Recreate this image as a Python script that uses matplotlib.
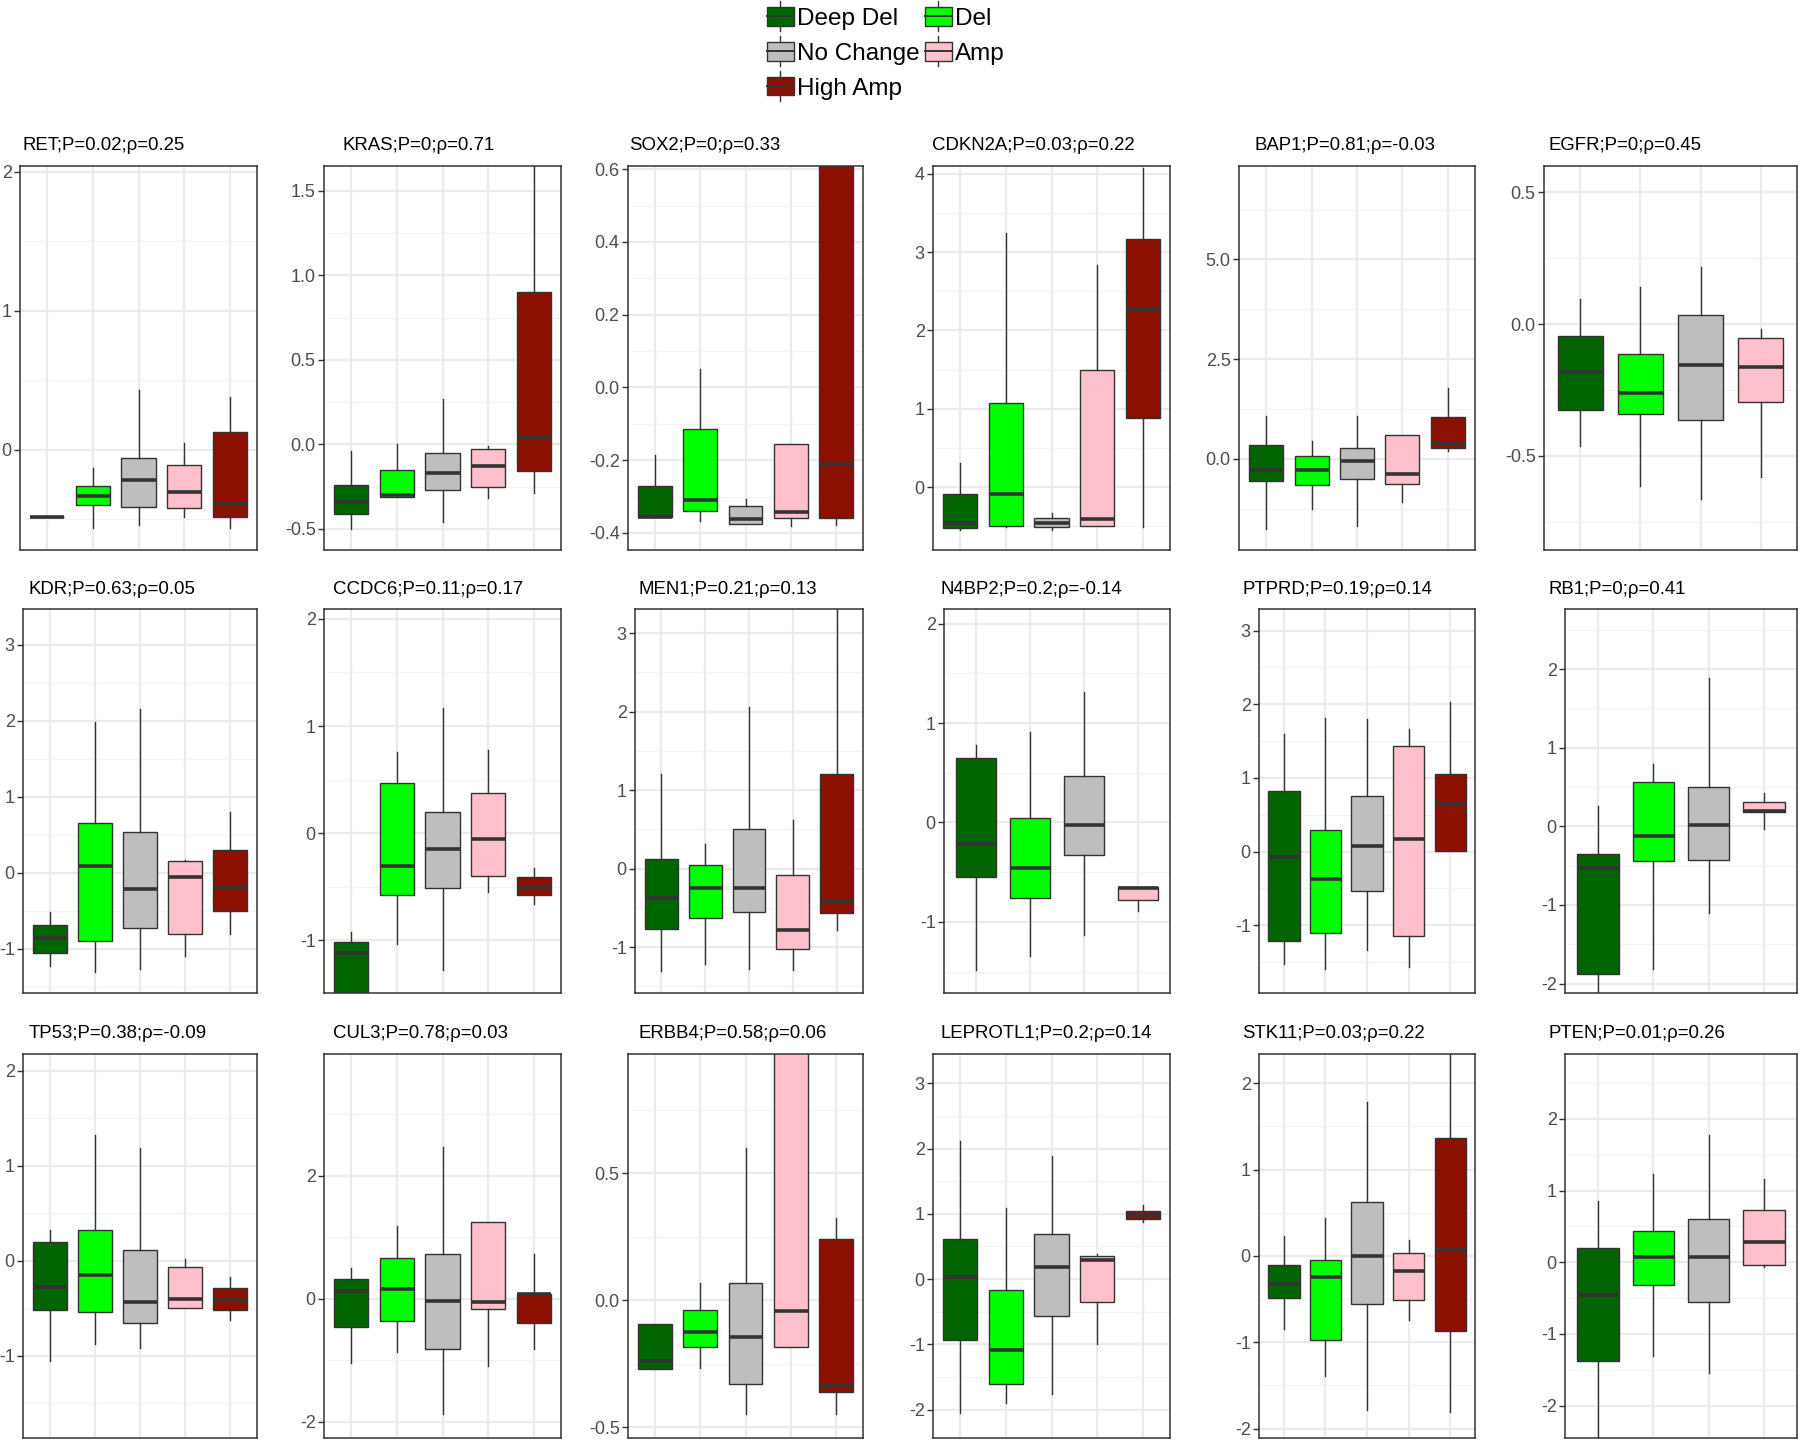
import matplotlib
matplotlib.use('Agg')
import matplotlib.pyplot as plt
from matplotlib.patches import Rectangle, Patch
from matplotlib.lines import Line2D
from matplotlib.legend_handler import HandlerBase

plt.rcParams['font.family'] = ['Liberation Sans', 'DejaVu Sans']

groups = ['Deep Del', 'Del', 'No Change', 'Amp', 'High Amp']
colors = ['#006400', '#00FF00', '#BEBEBE', '#FFC0CB', '#8B1000']

genes = ['RET', 'KRAS', 'SOX2', 'CDKN2A', 'BAP1', 'EGFR',
         'KDR', 'CCDC6', 'MEN1', 'N4BP2', 'PTPRD', 'RB1',
         'TP53', 'CUL3', 'ERBB4', 'LEPROTL1', 'STK11', 'PTEN']
pvals = [0.02, 0, 0, 0.03, 0.81, 0,
         0.63, 0.11, 0.21, 0.2, 0.19, 0,
         0.38, 0.78, 0.58, 0.2, 0.03, 0.01]
rhos = [0.25, 0.71, 0.33, 0.22, -0.03, 0.45,
        0.05, 0.17, 0.13, -0.14, 0.14, 0.41,
        -0.09, 0.03, 0.06, 0.14, 0.22, 0.26]

# boxplot stats per group: (whisker low, q1, median, q3, whisker high)
ret = [(-0.48, -0.48, -0.48, -0.48, -0.48), (-0.56, -0.40, -0.33, -0.26, -0.13),
       (-0.54, -0.41, -0.22, -0.06, 0.43), (-0.48, -0.42, -0.30, -0.11, 0.05),
       (-0.56, -0.48, -0.39, 0.13, 0.38)]
kras = [(-0.50, -0.41, -0.34, -0.24, -0.04), (-0.31, -0.31, -0.30, -0.15, 0.0),
        (-0.46, -0.27, -0.17, -0.05, 0.27), (-0.32, -0.25, -0.13, -0.03, -0.01),
        (-0.29, -0.16, 0.04, 0.90, 1.9)]
sox2 = [(-0.357, -0.357, -0.357, -0.27, -0.185), (-0.366, -0.339, -0.309, -0.115, 0.05),
        (-0.375, -0.375, -0.362, -0.327, -0.306), (-0.381, -0.358, -0.343, -0.155, -0.155),
        (-0.378, -0.36, -0.211, 0.9, 1.2)]
cdkn2a = [(-0.544, -0.514, -0.459, -0.089, 0.306), (-0.51, -0.489, -0.089, 1.072, 3.24),
          (-0.544, -0.502, -0.459, -0.387, -0.323), (-0.489, -0.489, -0.408, 1.493, 2.84),
          (-0.502, 0.884, 2.274, 3.17, 4.07)]
bap1 = [(-1.76, -0.54, -0.28, 0.35, 1.08), (-1.25, -0.65, -0.28, 0.08, 0.46),
        (-1.68, -0.51, -0.05, 0.27, 1.08), (-1.09, -0.63, -0.38, 0.60, 0.60),
        (0.21, 0.28, 0.38, 1.06, 1.77)]
egfr = [(-0.464, -0.325, -0.182, -0.044, 0.096), (-0.613, -0.34, -0.262, -0.113, 0.139),
        (-0.662, -0.363, -0.154, 0.035, 0.215), (-0.58, -0.296, -0.164, -0.051, -0.019)]
kdr = [(-1.23, -1.05, -0.86, -0.68, -0.51), (-1.30, -0.90, 0.09, 0.65, 1.98),
       (-1.27, -0.73, -0.21, 0.54, 2.15), (-1.09, -0.80, -0.06, 0.16, 0.17),
       (-0.80, -0.50, -0.19, 0.30, 0.80)]
ccdc6 = [(-2.0, -1.7, -1.12, -1.02, -0.92), (-1.04, -0.58, -0.31, 0.47, 0.76),
         (-1.28, -0.51, -0.15, 0.20, 1.17), (-0.55, -0.40, -0.06, 0.37, 0.78),
         (-0.66, -0.58, -0.50, -0.41, -0.33)]
men1 = [(-1.31, -0.77, -0.38, 0.12, 1.20), (-1.21, -0.63, -0.25, 0.05, 0.31),
        (-1.28, -0.55, -0.25, 0.51, 2.06), (-1.29, -1.03, -0.78, -0.08, 0.62),
        (-0.78, -0.57, -0.41, 1.21, 3.6)]
n4bp2 = [(-1.48, -0.55, -0.22, 0.65, 0.78), (-1.34, -0.76, -0.46, 0.04, 0.91),
         (-1.13, -0.33, -0.03, 0.47, 1.31), (-0.89, -0.78, -0.66, -0.65, -0.65)]
ptprd = [(-1.53, -1.22, -0.08, 0.82, 1.60), (-1.60, -1.10, -0.37, 0.30, 1.81),
         (-1.33, -0.54, 0.07, 0.75, 1.80), (-1.57, -1.15, 0.17, 1.44, 1.67),
         (0.01, 0.01, 0.64, 1.05, 2.03)]
rb1 = [(-2.3, -1.88, -0.53, -0.35, 0.26), (-1.82, -0.44, -0.12, 0.56, 0.79),
       (-1.10, -0.43, 0.02, 0.50, 1.89), (-0.03, 0.18, 0.20, 0.31, 0.42)]
tp53 = [(-1.06, -0.52, -0.28, 0.20, 0.32), (-0.88, -0.54, -0.15, 0.32, 1.33),
        (-0.92, -0.66, -0.43, 0.11, 1.19), (-0.50, -0.50, -0.40, -0.06, 0.02),
        (-0.62, -0.52, -0.41, -0.29, -0.17)]
cul3 = [(-1.05, -0.46, 0.13, 0.32, 0.50), (-0.87, -0.36, 0.15, 0.66, 1.18),
        (-1.88, -0.82, -0.03, 0.72, 2.47), (-1.09, -0.17, -0.06, 1.25, 1.25),
        (-0.82, -0.39, 0.07, 0.08, 0.73)]
erbb4 = [(-0.273, -0.273, -0.24, -0.094, -0.094), (-0.266, -0.186, -0.127, -0.039, 0.068),
         (-0.45, -0.331, -0.147, 0.066, 0.60), (-0.186, -0.186, -0.042, 1.2, 1.5),
         (-0.45, -0.362, -0.338, 0.24, 0.322)]
leprotl1 = [(-2.05, -0.93, 0.04, 0.62, 2.12), (-1.90, -1.61, -1.08, -0.16, 1.09),
            (-1.76, -0.57, 0.19, 0.69, 1.88), (-0.99, -0.35, 0.29, 0.35, 0.39),
            (0.88, 0.92, 0.99, 1.05, 1.13)]
stk11 = [(-0.85, -0.49, -0.32, -0.10, 0.23), (-1.39, -0.98, -0.24, -0.05, 0.44),
         (-1.78, -0.56, 0.0, 0.63, 1.78), (-0.74, -0.51, -0.18, 0.03, 0.18),
         (-1.81, -0.87, 0.07, 1.37, 2.6)]
pten = [(-2.7, -1.38, -0.46, 0.20, 0.86), (-1.31, -0.32, 0.08, 0.43, 1.23),
        (-1.55, -0.55, 0.07, 0.60, 1.78), (-0.07, -0.04, 0.28, 0.73, 1.16)]

stats = [ret, kras, sox2, cdkn2a, bap1, egfr,
         kdr, ccdc6, men1, n4bp2, ptprd, rb1,
         tp53, cul3, erbb4, leprotl1, stk11, pten]

# y axis of each panel: limits, major ticks and labels
ylims = [(-0.72, 2.04), (-0.626, 1.648), (-0.447, 0.609), (-0.8, 4.098), (-2.28, 7.34), (-0.857, 0.6),
         (-1.58, 3.47), (-1.494, 2.093), (-1.584, 3.306), (-1.716, 2.147), (-1.92, 3.294), (-2.12, 2.763),
         (-1.867, 2.179), (-2.266, 3.98), (-0.543, 0.97), (-2.434, 3.449), (-2.11, 2.339), (-2.452, 2.906)]
yticks = [['0', '1', '2'], ['-0.5', '0.0', '0.5', '1.0', '1.5'],
          ['-0.4', '-0.2', '0.0', '0.2', '0.4', '0.6'], ['0', '1', '2', '3', '4'],
          ['0.0', '2.5', '5.0'], ['-0.5', '0.0', '0.5'],
          ['-1', '0', '1', '2', '3'], ['-1', '0', '1', '2'], ['-1', '0', '1', '2', '3'],
          ['-1', '0', '1', '2'], ['-1', '0', '1', '2', '3'], ['-2', '-1', '0', '1', '2'],
          ['-1', '0', '1', '2'], ['-2', '0', '2'], ['-0.5', '0.0', '0.5'],
          ['-2', '-1', '0', '1', '2', '3'], ['-2', '-1', '0', '1', '2'], ['-2', '-1', '0', '1', '2']]

W, H = 1800, 1440
fig = plt.figure(figsize=(18, 14.4), dpi=100)

# panel geometry in pixels
col_right = [257, 561, 863, 1170, 1475, 1797]
panel_left = [[20, 324, 628, 933, 1239, 1544],
              [23, 324, 635, 944, 1259, 1565],
              [23, 324, 628, 933, 1259, 1565]]
title_x = [[23, 342, 629, 932, 1255, 1549],
           [29, 333, 638, 941, 1242, 1549],
           [29, 333, 638, 941, 1242, 1549]]
row_top = [166, 609, 1054]
row_bot = [550, 993, 1438]

for i, g in enumerate(genes):
    r, c = divmod(i, 6)
    l = panel_left[r][c]
    w = col_right[c] - l
    ax = fig.add_axes([l / W, 1 - row_bot[r] / H, w / W, (row_bot[r] - row_top[r]) / H])
    st = stats[i]
    n = len(st)
    pos = list(range(1, n + 1))
    bxs = [dict(whislo=s[0], q1=s[1], med=s[2], q3=s[3], whishi=s[4]) for s in st]
    art = ax.bxp(bxs, positions=pos, widths=0.75, showfliers=False, showcaps=False,
                 patch_artist=True,
                 boxprops=dict(edgecolor='#333333', linewidth=1.0),
                 medianprops=dict(color='#333333', linewidth=2.6, solid_capstyle='butt'),
                 whiskerprops=dict(color='#333333', linewidth=1.0))
    for b, col in zip(art['boxes'], colors):
        b.set_facecolor(col)
    tv = [float(t) for t in yticks[i]]
    ax.set_yticks(tv)
    ax.set_yticklabels(yticks[i])
    step = tv[1] - tv[0]
    minors = [tv[0] - step / 2] + [t + step / 2 for t in tv]
    ax.set_yticks(minors, minor=True)
    ax.set_xticks(pos)
    ax.set_xticklabels([])
    ax.set_xlim(0.4, n + 0.6)
    ax.set_ylim(*ylims[i])
    ax.tick_params(axis='x', length=0)
    ax.tick_params(axis='y', which='major', length=4, width=1, color='#333333',
                   labelsize=13, labelcolor='#4D4D4D', pad=2)
    ax.tick_params(axis='y', which='minor', length=0)
    ax.grid(True, which='major', color='#EBEBEB', linewidth=1.6)
    ax.grid(True, which='minor', axis='y', color='#F2F2F2', linewidth=0.9)
    ax.set_axisbelow(True)
    for sp in ax.spines.values():
        sp.set_color('#333333')
        sp.set_linewidth(1.1)
    fig.text(title_x[r][c] / W, 1 - (row_top[r] - 20) / H,
             f"{g};P={pvals[i]:g};\u03c1={rhos[i]:g}", fontsize=13.4, color='black',
             ha='left', va='center')


class BoxKey(HandlerBase):
    def create_artists(self, legend, orig_handle, xdescent, ydescent, width, height, fontsize, trans):
        x0, y0 = -xdescent, -ydescent
        fc = orig_handle.get_facecolor()
        xm = x0 + width / 2
        w1 = Line2D([xm, xm], [y0 - height * 0.3, y0 + height * 0.5], color='#333333', lw=1, transform=trans)
        w2 = Line2D([xm, xm], [y0 + height * 0.5, y0 + height * 1.3], color='#333333', lw=1, transform=trans)
        rect = Rectangle((x0, y0), width, height, facecolor=fc, edgecolor='#333333', lw=1, transform=trans)
        med = Line2D([x0, x0 + width], [y0 + height / 2] * 2, color='#333333', lw=1.4, transform=trans)
        return [w1, w2, rect, med]


order = [0, 2, 4, 1, 3]
handles = [Patch(facecolor=colors[k]) for k in order]
labels = [groups[k] for k in order]
fig.legend(handles, labels, handler_map={Patch: BoxKey()}, ncol=2, loc='upper center',
           bbox_to_anchor=(886 / W, 1 + 10 / H), frameon=False, fontsize=17.5,
           handlelength=1.1, handleheight=0.8, handletextpad=0.15, columnspacing=0.2,
           labelspacing=0.5, borderpad=0.2)

fig.savefig('out.png', dpi=100)
